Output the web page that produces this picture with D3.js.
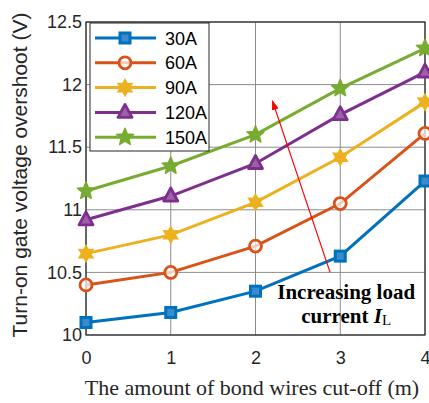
<!DOCTYPE html>
<html>
<head>
<meta charset="utf-8">
<script src="https://cdn.jsdelivr.net/npm/d3@7"></script>
<style>
  body { margin: 0; background: #fff; }
  svg { display: block; }
</style>
</head>
<body>
<div id="chart"></div>
<script>
// bond wires cut-off count
const xValues = [0, 1, 2, 3, 4];
const seriesNames = ["30A", "60A", "90A", "120A", "150A"];
const v30 = [10.10, 10.18, 10.35, 10.63, 11.23];
const v60 = [10.40, 10.50, 10.71, 11.05, 11.61];
const v90 = [10.65, 10.80, 11.06, 11.42, 11.86];
const v120 = [10.92, 11.11, 11.37, 11.76, 12.10];
const v150 = [11.15, 11.35, 11.60, 11.97, 12.29];
const yTicks = [10, 10.5, 11, 11.5, 12, 12.5];
const xTicks = [0, 1, 2, 3, 4];

const colors = ["#0072BD", "#D95319", "#EDB120", "#7E2F8E", "#77AC30"];
const markers = ["square", "circle", "hexagram", "triangle", "pentagram"];
const series = [v30, v60, v90, v120, v150];

const W = 429, H = 403;
const margin = {top: 22, right: 4, bottom: 68, left: 86};
const width = W - margin.left - margin.right,
  height = H - margin.top - margin.bottom;

const svg = d3.select("#chart").append("svg")
  .attr("width", W)
  .attr("height", H);

const g = svg.append("g")
  .attr("transform", "translate(" + margin.left + "," + margin.top + ")");

const x = d3.scaleLinear().domain([0, 4]).range([0, width]);
const y = d3.scaleLinear().domain([10, 12.5]).range([height, 0]);

// grid
g.append("g").selectAll("line").data(xTicks).join("line")
  .attr("x1", d => x(d)).attr("x2", d => x(d))
  .attr("y1", 0).attr("y2", height)
  .attr("stroke", "#8c8c8c").attr("stroke-width", 1);
g.append("g").selectAll("line").data(yTicks).join("line")
  .attr("x1", 0).attr("x2", width)
  .attr("y1", d => y(d)).attr("y2", d => y(d))
  .attr("stroke", "#8c8c8c").attr("stroke-width", 1);

// axes box
g.append("rect")
  .attr("width", width).attr("height", height)
  .attr("fill", "none").attr("stroke", "#262626").attr("stroke-width", 1.2);

const yAxis = d3.axisLeft(y).tickValues(yTicks).tickSize(0).tickPadding(4)
  .tickFormat(d3.format("~g"));
const xAxis = d3.axisBottom(x).tickValues(xTicks).tickSize(0).tickPadding(16)
  .tickFormat(d3.format("d"));

g.append("g").call(yAxis)
  .call(s => s.select(".domain").remove())
  .selectAll("text")
  .style("font-family", "Arial, 'Liberation Sans', sans-serif")
  .style("font-size", "18px").attr("fill", "#262626");

// the "4" label runs off the right edge, as in the original figure
g.append("g").attr("transform", "translate(0," + height + ")").call(xAxis)
  .call(s => s.select(".domain").remove())
  .selectAll("text")
  .style("font-family", "Arial, 'Liberation Sans', sans-serif")
  .style("font-size", "18px").attr("fill", "#262626");

// marker shapes
function starPath(points, rOut, rIn) {
  let p = [];
  for (let i = 0; i < points * 2; i++) {
    let r = i % 2 === 0 ? rOut : rIn;
    let a = -Math.PI / 2 + i * Math.PI / points;
    p.push([r * Math.cos(a), r * Math.sin(a)]);
  }
  return "M" + p.map(q => q.join(",")).join("L") + "Z";
}
function drawMarker(sel, type, color) {
  if (type === "square") {
    sel.append("rect").attr("x", -5).attr("y", -5).attr("width", 10).attr("height", 10)
      .attr("fill", "#3a8bca").attr("stroke", color).attr("stroke-width", 3);
  } else if (type === "circle") {
    sel.append("circle").attr("r", 6)
      .attr("fill", "#fff").attr("fill-opacity", 0.7).attr("stroke", color).attr("stroke-width", 2.8);
  } else if (type === "hexagram") {
    sel.append("path").attr("d", starPath(6, 8, 4.5))
      .attr("fill", color).attr("stroke", color).attr("stroke-width", 1.5);
  } else if (type === "triangle") {
    sel.append("path").attr("d", "M0,-8L7,5L-7,5Z")
      .attr("fill", "#9a62a4").attr("stroke", color).attr("stroke-width", 2.8)
      .attr("stroke-linejoin", "round");
  } else if (type === "pentagram") {
    sel.append("path").attr("d", starPath(5, 9, 4))
      .attr("fill", color).attr("stroke", color).attr("stroke-width", 1.5)
      .attr("stroke-linejoin", "round");
  }
}

const line = d3.line().x((d, i) => x(xValues[i])).y(d => y(d));

series.forEach((vals, k) => {
  g.append("path").datum(vals)
    .attr("fill", "none").attr("stroke", colors[k]).attr("stroke-width", 3)
    .attr("d", line);
  vals.forEach((v, i) => {
    const m = g.append("g").attr("transform", "translate(" + x(xValues[i]) + "," + y(v) + ")");
    drawMarker(m, markers[k], colors[k]);
  });
});

// legend
const leg = g.append("g").attr("transform", "translate(4,1)");
leg.append("rect").attr("width", 119).attr("height", 128)
  .attr("fill", "#fff").attr("stroke", "#262626").attr("stroke-width", 1);
seriesNames.forEach((name, k) => {
  const ly = 15 + k * 24.8;
  leg.append("line").attr("x1", 5).attr("x2", 66).attr("y1", ly).attr("y2", ly)
    .attr("stroke", colors[k]).attr("stroke-width", 3);
  const m = leg.append("g").attr("transform", "translate(35," + ly + ")");
  drawMarker(m, markers[k], colors[k]);
  leg.append("text").attr("x", 75).attr("y", ly + 6.5).text(name)
    .style("font-family", "Arial, 'Liberation Sans', sans-serif")
    .style("font-size", "18px").attr("fill", "#000");
});

// annotation arrow
svg.append("defs").append("marker")
  .attr("id", "arrowHead").attr("viewBox", "0 0 10 10")
  .attr("refX", 9).attr("refY", 5)
  .attr("markerWidth", 10).attr("markerHeight", 12)
  .attr("markerUnits", "userSpaceOnUse")
  .attr("orient", "auto")
  .append("path").attr("d", "M0,1.5L10,5L0,8.5Z").attr("fill", "#ff0000");

g.append("line")
  .attr("x1", x(2.88)).attr("y1", y(10.5))
  .attr("x2", x(2.2)).attr("y2", y(11.87))
  .attr("stroke", "#ff0000").attr("stroke-width", 1.2)
  .attr("marker-end", "url(#arrowHead)");

const ann = g.append("text")
  .style("font-family", "'Liberation Serif', 'Times New Roman', serif")
  .style("font-size", "21px").style("font-weight", "bold")
  .attr("text-anchor", "middle").attr("fill", "#000");
ann.append("tspan").attr("x", x(3.07)).attr("y", y(10.29)).text("Increasing load");
const l2 = ann.append("tspan").attr("x", x(3.07)).attr("y", y(10.095));
l2.text("current ");
l2.append("tspan").style("font-style", "italic").text("I");
l2.append("tspan").style("font-size", "15px").style("font-weight", "normal").attr("dy", 2).text("L");

// axis titles
svg.append("text")
  .attr("transform", "translate(27,175) rotate(-90)")
  .attr("text-anchor", "middle")
  .style("font-family", "Arial, 'Liberation Sans', sans-serif")
  .style("font-size", "21px").attr("fill", "#262626")
  .text("Turn-on gate voltage overshoot (V)");

svg.append("text")
  .attr("x", 252).attr("y", 395)
  .attr("text-anchor", "middle")
  .style("font-family", "'Liberation Serif', 'Times New Roman', serif")
  .style("font-size", "22px").attr("fill", "#262626")
  .text("The amount of bond wires cut-off (m)");
</script>
</body>
</html>
